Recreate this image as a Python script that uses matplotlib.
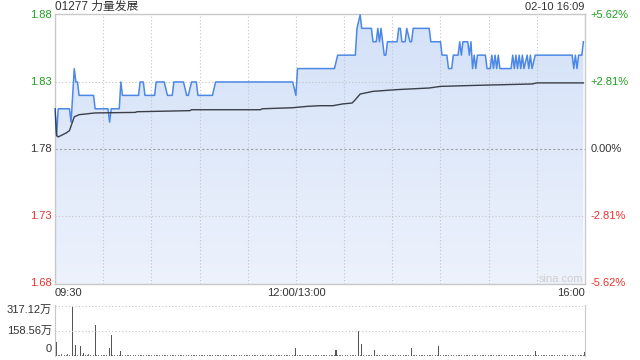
import numpy as np
import matplotlib
matplotlib.use("Agg")
import matplotlib.pyplot as plt
import matplotlib.transforms as mtransforms
from matplotlib.colors import LinearSegmentedColormap

plt.rcParams['font.family'] = ['Liberation Sans', 'Noto Sans CJK SC', 'DejaVu Sans']

# ---- data (minutes since 09:30, lunch removed) ----
prev_close = 1.78
price_min = [0, 1, 2, 9, 10, 12, 13, 14, 15, 24, 25, 33, 34, 35, 40, 41, 42, 52, 53, 55,
             56, 62, 63, 68, 70, 73, 74, 80, 82, 83, 85, 88, 89, 98, 100, 148, 150, 151,
             174, 176, 187, 188, 190, 191, 197, 198, 200, 201, 202, 203, 205, 206, 207,
             213, 214, 215, 216, 218, 219, 221, 222, 223, 233, 234, 240, 241, 244, 245,
             247, 248, 251, 252, 253, 254, 257, 258, 259, 260, 261, 262, 263, 268, 269,
             271, 272, 273, 274, 275, 276, 277, 279, 284, 285, 286, 287, 288, 289, 290,
             291, 292, 294, 295, 296, 297, 299, 322, 323, 324, 325, 326, 328, 329]
price_val = [1.81, 1.79, 1.81, 1.81, 1.80, 1.84, 1.83, 1.83, 1.82, 1.82, 1.81, 1.81, 1.80,
             1.81, 1.81, 1.83, 1.82, 1.82, 1.83, 1.83, 1.82, 1.82, 1.83, 1.83, 1.82, 1.82,
             1.83, 1.83, 1.82, 1.82, 1.83, 1.83, 1.82, 1.82, 1.83, 1.83, 1.82, 1.84, 1.84,
             1.85, 1.85, 1.87, 1.88, 1.87, 1.87, 1.86, 1.86, 1.87, 1.86, 1.87, 1.85, 1.85,
             1.86, 1.86, 1.87, 1.87, 1.86, 1.86, 1.87, 1.86, 1.86, 1.87, 1.87, 1.86, 1.86,
             1.85, 1.85, 1.84, 1.84, 1.85, 1.85, 1.86, 1.85, 1.86, 1.86, 1.85, 1.86, 1.84,
             1.85, 1.84, 1.85, 1.85, 1.84, 1.84, 1.85, 1.84, 1.85, 1.84, 1.85, 1.84, 1.84,
             1.84, 1.85, 1.84, 1.85, 1.84, 1.85, 1.84, 1.85, 1.84, 1.85, 1.84, 1.85, 1.84,
             1.85, 1.85, 1.84, 1.85, 1.84, 1.85, 1.85, 1.86]

avg_min = [0, 1, 2, 7, 9, 12, 15, 25, 50, 51, 84, 85, 128, 129, 148, 157, 165, 173, 179,
           185, 187, 190, 198, 213, 233, 240, 263, 297, 300, 329]
avg_val = [1.810, 1.790, 1.789, 1.792, 1.7937, 1.804, 1.8056, 1.8069, 1.8073, 1.8078,
           1.8086, 1.8093, 1.8093, 1.8100, 1.8108, 1.8118, 1.8123, 1.8123, 1.8136, 1.8143,
           1.8168, 1.8210, 1.8230, 1.8243, 1.8255, 1.8267, 1.8275, 1.8285, 1.8293, 1.8293]

# the taller volume bars (万 shares)
vol_min = [1, 11, 13, 16, 18, 25, 34, 35, 41, 150, 175, 189, 191, 199, 222, 239, 299, 330]
vol_val = [91, 311, 67, 61, 20, 195, 53, 134, 32, 53, 37, 158, 73, 37, 53, 61, 33, 28]

# the low "carpet" of volume, one value per minute 0..329
quiet_vol = [6, 9, 8, 5, 12, 6, 8, 5, 10, 7, 6, 7, 6, 9, 9, 5, 6, 8, 6, 8, 5, 11, 6, 7, 9, 6, 5, 8, 6, 7,
             5, 7, 6, 4, 8, 6, 9, 5, 7, 6, 8, 5, 6, 7, 5, 9, 6, 4, 7, 5, 6, 8, 5, 7, 6, 4, 5, 6, 7, 5,
             8, 6, 5, 7, 6, 9, 5, 8, 6, 7, 4, 6, 5, 8, 6, 7, 5, 9, 6, 5, 5, 7, 6, 8, 5, 6, 7, 5, 6, 8,
             5, 6, 8, 4, 7, 5, 6, 9, 5, 7, 6, 5, 8, 6, 4, 7, 5, 6, 8, 5, 6, 7, 5, 6, 9, 5, 7, 6, 4, 8,
             6, 5, 7, 6, 8, 5, 6, 4, 7, 5, 9, 6, 5, 8, 6, 7, 5, 6, 8, 5, 6, 7, 4, 6, 5, 8, 6, 7, 5, 6,
             7, 5, 8, 6, 5, 7, 6, 4, 8, 5, 6, 7, 5, 9, 6, 5, 8, 6, 7, 5, 6, 8, 5, 7, 6, 4, 7, 5, 6, 9,
             5, 6, 7, 8, 5, 6, 9, 5, 7, 6, 8, 5, 6, 7, 5, 8, 6, 5, 7, 6, 9, 5, 6, 8, 5, 7, 6, 5, 8, 6,
             4, 7, 5, 6, 8, 5, 6, 7, 5, 9, 6, 5, 8, 6, 7, 5, 6, 8, 5, 6, 7, 5, 6, 8, 5, 7, 6, 5, 8, 6,
             7, 5, 6, 9, 5, 8, 6, 7, 5, 6, 8, 5, 6, 7, 5, 9, 6, 5, 8, 6, 7, 5, 6, 8, 5, 6, 7, 5, 6, 9,
             5, 7, 6, 8, 5, 6, 7, 5, 8, 6, 5, 7, 6, 9, 5, 6, 8, 5, 7, 6, 5, 8, 6, 7, 5, 6, 8, 5, 6, 7,
             5, 6, 8, 5, 7, 6, 5, 9, 6, 7, 5, 6, 8, 5, 7, 6, 5, 8, 6, 7, 5, 6, 9, 5, 7, 6, 5, 8, 6, 7]

price_ticks = [1.88, 1.83, 1.78, 1.73, 1.68]
vol_ticks = [317.12, 158.56, 0]
vol_labels = ["317.12万", "158.56万", "0"]
time_labels = ["09:30", "12:00/13:00", "16:00"]
time_pos = [0, 150, 330]

GREEN = "#1f9e1f"
RED = "#e8322e"
TXT = "#333333"
GRID = "#c4c4c4"

fig = plt.figure(figsize=(6.4, 3.6), dpi=100)
ax = fig.add_axes([55 / 640, 1 - 284 / 360, 530 / 640, 270 / 360])
axv = fig.add_axes([55 / 640, 1 - 356 / 360, 530 / 640, 51 / 360])

# ---- price panel ----
ax.set_xlim(0, 330)
ax.set_ylim(1.6793, 1.8807)
ax.set_xticks([])
ax.set_yticks([])
for s in ax.spines.values():
    s.set_color("#c8c8c8")
    s.set_linewidth(1)

for t in range(30, 330, 30):
    ax.axvline(t, color=GRID, lw=0.8, ls=(0, (1, 2)), zorder=1)
for p in [1.83, 1.73]:
    ax.axhline(p, color=GRID, lw=0.8, ls=(0, (1, 2)), zorder=1)
ax.axhline(prev_close, color="#a0a0a0", lw=0.8, ls=(0, (2, 2)), zorder=1)

# gradient fill under the price line
poly = ax.fill_between(price_min, price_val, 1.6793, color="none", lw=0)
grad = np.linspace(0, 1, 256).reshape(-1, 1)
cmap = LinearSegmentedColormap.from_list("fill", ["#edf2fc", "#d3e1f8"])
im = ax.imshow(grad, extent=[0, 330, 1.6793, 1.88], origin="lower", aspect="auto",
               cmap=cmap, zorder=0.5)
im.set_clip_path(poly.get_paths()[0], transform=ax.transData)

ax.plot(price_min, price_val, color="#4d88e6", lw=1.1, zorder=3, clip_on=False)
ax.plot(avg_min, avg_val, color="#3a3f48", lw=1.0, zorder=3)

lt = mtransforms.blended_transform_factory(ax.transAxes, ax.transData)
for p in price_ticks:
    c = GREEN if p > prev_close + 1e-9 else (RED if p < prev_close - 1e-9 else TXT)
    ax.text(-0.006, p, f"{p:.2f}", transform=lt, ha="right", va="center", fontsize=8, color=c)
    pct = (p / prev_close - 1) * 100
    lab = f"{pct:+.2f}%" if abs(pct) > 1e-9 else "0.00%"
    ax.text(1.01, p, lab, transform=lt, ha="left", va="center", fontsize=8, color=c)

bt = mtransforms.blended_transform_factory(ax.transData, ax.transAxes)
for pos, lab in zip(time_pos, time_labels):
    ha = "left" if pos == 0 else ("right" if pos == 330 else "center")
    ax.text(pos, -0.035, lab, transform=bt, ha=ha, va="center", fontsize=8, color=TXT)

ax.text(0.955, 0.02, "sina.com", transform=ax.transAxes, ha="center", va="center",
        fontsize=8, color="#cfcfcf")

fig.text(55 / 640, 1 - 7 / 360, "01277 力量发展", ha="left", va="center", fontsize=8.5, color=TXT)
fig.text(584 / 640, 1 - 7 / 360, "02-10 16:09", ha="right", va="center", fontsize=8, color=TXT)

# ---- volume panel ----
axv.set_xlim(0, 330)
axv.set_ylim(0, 317.12 * 51 / 50)
axv.set_xticks([])
axv.set_yticks([])
for k, s in axv.spines.items():
    s.set_color("#c8c8c8")
    s.set_visible(k in ("left", "right"))
for v in vol_ticks[:2]:
    axv.axhline(v, color=GRID, lw=0.8, ls=(0, (1, 2)))
axv.bar(range(len(quiet_vol)), quiet_vol, width=0.5, color="#777777", lw=0)
axv.bar(vol_min, vol_val, width=0.7, color="#555555", lw=0)

vt = mtransforms.blended_transform_factory(axv.transAxes, axv.transData)
vt_va = ["top", "center", "bottom"]
vt_y = [317.12 + 4, 158.56, 10]
for y, lab, va in zip(vt_y, vol_labels, vt_va):
    axv.text(-0.006, y, lab, transform=vt, ha="right", va=va, fontsize=8, color=TXT)

fig.savefig("out.png", dpi=100)
